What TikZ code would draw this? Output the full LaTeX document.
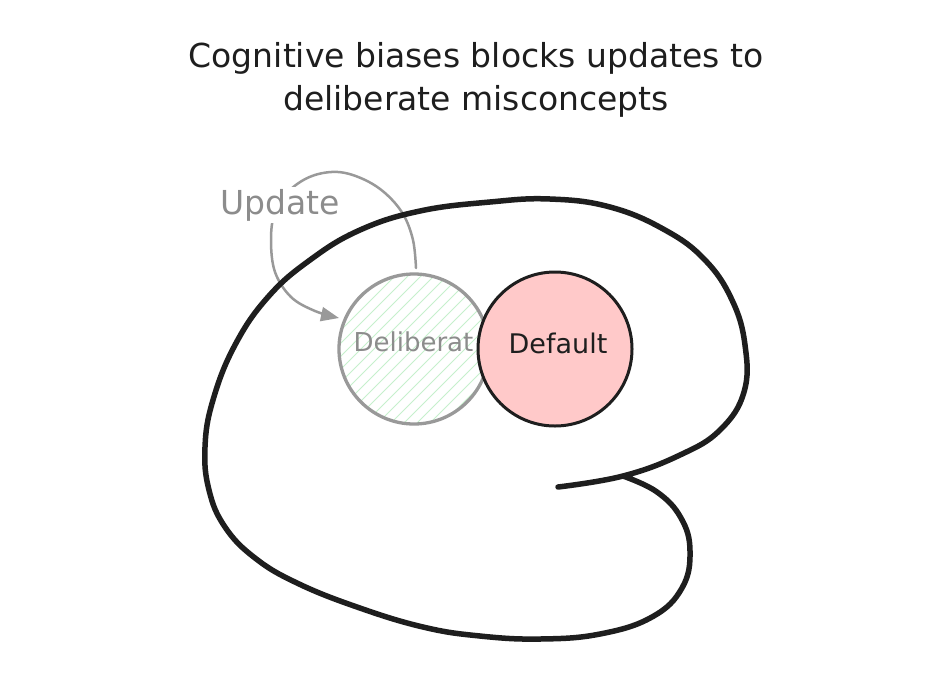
\documentclass[tikz,border=0pt]{standalone}
\usepackage{fontspec}
\setmainfont{DejaVu Sans}
\usetikzlibrary{arrows.meta,calc}
\definecolor{ink}{HTML}{1E1E1E}
\definecolor{soft}{HTML}{999999}
\definecolor{softtext}{HTML}{8C8C8C}
\definecolor{hatchgreen}{HTML}{C6F0CC}
\definecolor{pinkfill}{HTML}{FFC9C9}
\begin{document}
\begin{tikzpicture}[x=1pt,y=-1pt,
  titletext/.style={font=\fontsize{33}{43}\selectfont, text=ink, align=center},
  labeltext/.style={font=\fontsize{26}{30}\selectfont},
  blobline/.style={draw=ink, line width=5.5pt, line cap=round, line join=round},
  circ/.style={circle, minimum size=#1, inner sep=0pt},
  arrowline/.style={draw=soft, line width=2.5pt, line cap=round, -{Triangle[length=18pt,width=14pt]}}
]
\useasboundingbox (0,0) rectangle (952,681);
\fill[white] (0,0) rectangle (952,681);

% title
\node[titletext] (title) at (476,80) {Cognitive biases blocks updates to\\deliberate misconcepts};

% deliberate circle with hatch
\node[circ=150pt] (delib) at (414,349) {};
\begin{scope}
  \clip (delib.center) circle (74pt);
  \foreach \i in {-170,-157,...,170}
    \draw[hatchgreen, line width=0.9pt] ($(delib.center)+(\i-110,110)$) -- ($(delib.center)+(\i+110,-110)$);
\end{scope}
\draw[soft, line width=3.3pt] (delib.center) circle (75pt);
\node[labeltext, text=softtext, anchor=west] (delibtext) at (350,342) {Deliberat};

% default circle
\node[circ=154pt, fill=pinkfill, draw=ink, line width=3pt] (default) at (555,349) {};
\node[labeltext, text=ink, font=\fontsize{27}{30}\selectfont] (defaulttext) at (558,343) {Default};

% update arrow
\coordinate (astart) at (416,268);
\coordinate (aend) at (339,318);
\draw[arrowline] plot[smooth, tension=0.6] coordinates {(astart) (413,240) (403,214) (385,193) (363,179) (338,172) (312,176) (290,190) (275,212) (271,240) (275,272) (291,297) (315,311) (aend)};
\node[labeltext, font=\fontsize{33}{36}\selectfont, text=softtext, fill=white, inner sep=2pt] (update) at (280,205) {Update};

% blob
\draw[blobline] plot[smooth, tension=0.7] coordinates {
 (623,476) (657,492) (681,518) (690,551) (682,588) (652,617) (600,634) (540,639)
 (480,636) (423,627) (357,607) (297,583) (255,558) (225,527) (209,490) (205,447)
 (213,400) (235,345) (268,297) (310,260) (360,230) (420,211) (490,202) (550,199)
 (610,207) (665,230) (705,260) (732,300) (745,345) (744,392) (720,430) (680,455)
 (623,476) (558,487)};
\end{tikzpicture}
\end{document}
